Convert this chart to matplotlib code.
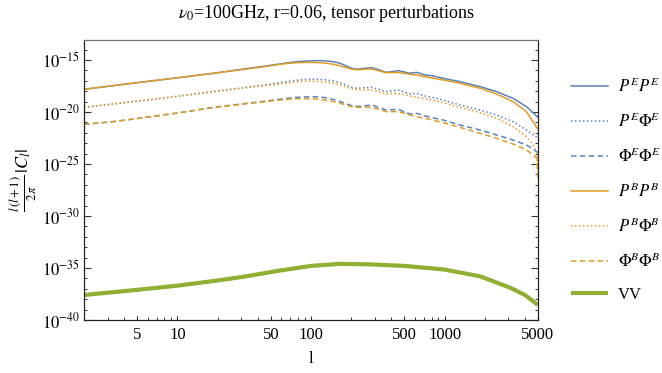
import numpy as np
import matplotlib
matplotlib.use('Agg')
import matplotlib.pyplot as plt
from matplotlib.ticker import FixedLocator, FixedFormatter, NullFormatter

plt.rcParams['font.family'] = ['Liberation Serif', 'DejaVu Serif']
plt.rcParams['mathtext.fontset'] = 'stix'

# ---- data (log10 of l(l+1)/2pi |C_l|) ----
ell = [2, 3.3, 5.9, 10.5, 18.6, 33, 46, 58.6, 74, 90, 110, 128, 147, 165, 180, 196, 213, 232,
       250, 284, 320, 364, 405, 450, 500, 550, 617, 712, 800, 975, 1300, 1840, 2450, 3250,
       4100, 5000]

log_PEPE = [-17.82, -17.47, -17.07, -16.68, -16.28, -15.83, -15.58, -15.38, -15.20, -15.11,
            -15.06, -15.08, -15.17, -15.32, -15.52, -15.74, -15.88, -15.86, -15.80, -15.74,
            -15.93, -16.19, -16.12, -16.03, -16.15, -16.28, -16.19, -16.44, -16.51, -16.76,
            -17.08, -17.56, -18.04, -18.69, -19.49, -20.51]
log_PEPhiE = [-19.55, -19.23, -18.85, -18.46, -18.04, -17.63, -17.38, -17.18, -16.98, -16.88,
              -16.84, -16.90, -17.02, -17.17, -17.37, -17.58, -17.70, -17.70, -17.67, -17.63,
              -17.82, -18.04, -17.98, -17.88, -18.08, -18.27, -18.21, -18.46, -18.59, -18.85,
              -19.33, -19.81, -20.29, -20.93, -21.73, -22.53]
log_PhiEPhiE = [-21.19, -20.93, -20.51, -20.06, -19.55, -19.17, -18.95, -18.78, -18.62, -18.55,
                -18.53, -18.62, -18.80, -18.99, -19.17, -19.35, -19.47, -19.46, -19.41, -19.33,
                -19.55, -19.81, -19.78, -19.74, -20.00, -20.19, -20.13, -20.38, -20.54, -20.77,
                -21.25, -21.73, -22.21, -22.69, -23.17, -23.91]
log_PBPB = [-17.82, -17.47, -17.07, -16.68, -16.28, -15.87, -15.62, -15.42, -15.28, -15.23,
            -15.24, -15.30, -15.42, -15.56, -15.70, -15.85, -15.94, -15.93, -15.90, -15.87,
            -16.03, -16.22, -16.22, -16.19, -16.28, -16.38, -16.44, -16.60, -16.73, -16.92,
            -17.24, -17.72, -18.27, -19.01, -19.97, -21.67]

ell_B = ell[:-1] + [4600, 4900, 5000]
log_PBPhiB = [-19.55, -19.23, -18.85, -18.46, -18.04, -17.66, -17.46, -17.31, -17.12, -17.04,
              -17.04, -17.12, -17.24, -17.40, -17.56, -17.72, -17.86, -17.88, -17.88, -17.88,
              -18.04, -18.27, -18.24, -18.21, -18.33, -18.46, -18.59, -18.72, -18.85, -19.10,
              -19.55, -20.06, -20.61, -21.41, -22.37, -23.17, -23.97, -26.38]
log_PhiBPhiB = [-21.19, -20.93, -20.51, -20.06, -19.58, -19.20, -19.01, -18.85, -18.74, -18.72,
                -18.74, -18.85, -19.01, -19.17, -19.30, -19.44, -19.54, -19.56, -19.55, -19.55,
                -19.74, -19.97, -19.97, -19.97, -20.13, -20.29, -20.45, -20.61, -20.77, -21.03,
                -21.47, -22.05, -22.53, -23.08, -23.65, -24.13, -24.46, -26.54]

ell_V = [2, 5, 10, 20, 31, 58, 100, 165, 276, 500, 1000, 1840, 3100, 4000, 5000]
log_VV = [-37.6, -37.1, -36.7, -36.2, -35.85, -35.25, -34.8, -34.6, -34.65, -34.8,
          -35.15, -35.8, -36.9, -37.6, -38.56]

x_ticks = [5, 10, 50, 100, 500, 1000, 5000]
x_ticklabels = ['5', '10', '50', '100', '500', '1000', '5000']
y_ticks_exp = [-15, -20, -25, -30, -35, -40]

BLUE = '#5E81B5'
ORANGE = '#E19C24'
GREEN = '#8FB032'

fig = plt.figure(figsize=(6.62, 3.73), dpi=100)
ax = fig.add_axes([84/662, 1-320/373, (538-84)/662, (320-40)/373])

lw = 1.1
dot = (0, (1.0, 1.6))
dash = (0, (3.6, 2.2))
ax.plot(ell, 10**np.array(log_PEPE), color=BLUE, lw=lw, label=r'$P^E P^E$')
ax.plot(ell, 10**np.array(log_PEPhiE), color=BLUE, lw=lw, ls=dot, label=r'$P^E \Phi^E$')
ax.plot(ell, 10**np.array(log_PhiEPhiE), color=BLUE, lw=lw, ls=dash, label=r'$\Phi^E \Phi^E$')
ax.plot(ell, 10**np.array(log_PBPB), color=ORANGE, lw=lw, label=r'$P^B P^B$')
ax.plot(ell_B, 10**np.array(log_PBPhiB), color=ORANGE, lw=lw, ls=dot, label=r'$P^B \Phi^B$')
ax.plot(ell_B, 10**np.array(log_PhiBPhiB), color=ORANGE, lw=lw, ls=dash, label=r'$\Phi^B \Phi^B$')
ax.plot(ell_V, 10**np.array(log_VV), color=GREEN, lw=3.0, label='VV', solid_capstyle='butt')

ax.set_xscale('log')
ax.set_yscale('log')
ax.set_xlim(2, 5000)
ax.set_ylim(1e-40, 10**-13.08)

ax.xaxis.set_major_locator(FixedLocator(x_ticks))
ax.xaxis.set_major_formatter(FixedFormatter(x_ticklabels))
minor_x = [m * 10**d for d in range(0, 4) for m in range(2, 10)]
ax.xaxis.set_minor_locator(FixedLocator([v for v in minor_x if v not in x_ticks]))
ax.xaxis.set_minor_formatter(NullFormatter())

ax.yaxis.set_major_locator(FixedLocator([10.0**e for e in y_ticks_exp]))
ax.yaxis.set_major_formatter(FixedFormatter([r'$10^{%d}$' % e for e in y_ticks_exp]))
ax.yaxis.set_minor_locator(FixedLocator([10.0**e for e in range(-40, -12) if e % 5 != 0]))
ax.yaxis.set_minor_formatter(NullFormatter())

ax.tick_params(axis='both', which='both', direction='in', labelsize=12, color='#333')
ax.tick_params(axis='y', which='major', length=5, width=0.8, right=True, left=True)
ax.tick_params(axis='y', which='minor', length=2.5, width=0.7, right=True, left=True)
ax.tick_params(axis='x', which='major', length=3, width=0.8, top=False)
ax.tick_params(axis='x', which='minor', length=2, width=0.7, top=False)
ax.tick_params(axis='x', which='major', pad=5)
ax.tick_params(axis='y', which='major', pad=3)

for s in ['left', 'bottom', 'right']:
    ax.spines[s].set_color('#222')
    ax.spines[s].set_linewidth(0.9)
ax.spines['top'].set_color('#777')
ax.spines['top'].set_linewidth(0.9)

fig.suptitle(r'$\nu_0$=100GHz, r=0.06, tensor perturbations', fontsize=13,
             x=327/662, y=1-3/373, va='top')
ax.set_xlabel('l', fontsize=12, labelpad=6)
ax.set_ylabel(r'$\frac{l\,(l+1)}{2\,\pi}\,|C_l|$', fontsize=13, labelpad=2)

fig.legend(loc='center left', bbox_to_anchor=(571/662, 1-190/373), frameon=False,
           fontsize=12, handlelength=2.2, handletextpad=0.6, labelspacing=0.97,
           borderpad=0, borderaxespad=0)

fig.savefig('out.png', dpi=100)
